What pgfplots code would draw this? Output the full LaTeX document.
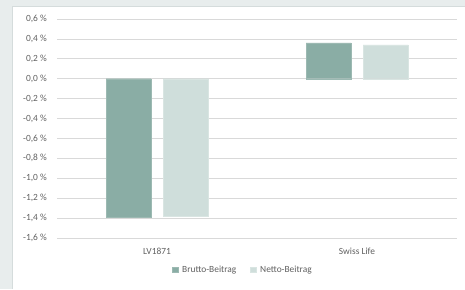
\documentclass[border=0pt]{standalone}
\usepackage{pgfplots}
\pgfplotsset{compat=1.18}
\usepackage{fontspec}
\setmainfont{Carlito}
\definecolor{bgc}{HTML}{E8EDED}
\definecolor{framec}{HTML}{D5DCDC}
\definecolor{brutto}{HTML}{8AADA5}
\definecolor{netto}{HTML}{CFDEDB}
\definecolor{gridc}{HTML}{D9D9D9}
\definecolor{txt}{HTML}{606060}
\begin{document}
\begin{tikzpicture}[x=1pt,y=1pt]
\fill[bgc] (0,0) rectangle (465,289);
\fill[white] (12,0) rectangle (465,283);
\draw[framec, line width=0.6pt] (12,0) -- (12,283) -- (465,283);
\begin{axis}[
  at={(57pt,51pt)}, anchor=south west,
  scale only axis, width=400pt, height=219pt,
  ybar=12pt, bar width=45pt,
  xmin=-0.5, xmax=1.5, ymin=-1.6, ymax=0.6,
  xtick={0,1}, xticklabels={LV1871, Swiss Life},
  ytick={-1.6,-1.4,-1.2,-1.0,-0.8,-0.6,-0.4,-0.2,0,0.2,0.4,0.6},
  yticklabels={{-1,6 \%},{-1,4 \%},{-1,2 \%},{-1,0 \%},{-0,8 \%},{-0,6 \%},{-0,4 \%},{-0,2 \%},{0,0 \%},{0,2 \%},{0,4 \%},{0,6 \%}},
  major tick length=0pt,
  axis line style={draw=none},
  ymajorgrids, grid style={gridc, line width=0.8pt},
  tick label style={font=\fontsize{9.4}{11}\selectfont, text=txt},
  yticklabel style={anchor=east, inner sep=0pt, xshift=-10pt},
  xticklabel style={anchor=north, inner sep=0pt, yshift=-10pt},
  legend style={at={(0.465,-0.146)}, anchor=center, draw=none, fill=none,
    legend columns=2, font=\fontsize{9.4}{11}\selectfont, text=txt,
    /tikz/every even column/.append style={column sep=12pt},
    /tikz/every odd column/.append style={column sep=2pt},
    inner sep=0pt, row sep=0pt},
  legend image code/.code={\fill[#1] (0pt,-2.7pt) rectangle (5.5pt,2.7pt);},
]
\addplot[fill=brutto, draw=brutto!85!white, line width=0.4pt] coordinates {(0,-1.39) (1,0.36)};
\addplot[fill=netto, draw=netto!80!white, line width=0.4pt] coordinates {(0,-1.38) (1,0.34)};
\legend{Brutto-Beitrag, Netto-Beitrag}
\end{axis}
\pgfresetboundingbox
\useasboundingbox (0,0) rectangle (465,289);
\end{tikzpicture}
\end{document}
